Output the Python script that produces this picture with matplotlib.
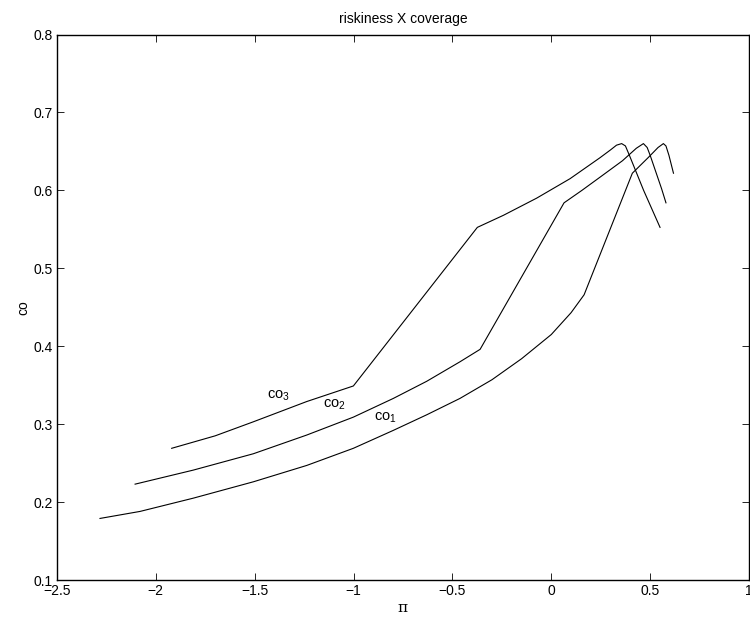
import matplotlib
matplotlib.use("Agg")
import matplotlib.pyplot as plt

plt.rcParams['font.family'] = ['Liberation Sans', 'DejaVu Sans']
plt.rcParams['mathtext.fontset'] = 'custom'
plt.rcParams['mathtext.rm'] = 'Liberation Sans'
plt.rcParams['mathtext.it'] = 'Liberation Sans:italic'

# co1 (lowest curve)
co1_x = [-2.2825, -2.080, -1.811, -1.507, -1.237, -1.001, -0.799, -0.630, -0.462,
         -0.30, -0.15, 0.0, 0.10, 0.166, 0.41, 0.49, 0.54, 0.567, 0.58, 0.595, 0.618]
co1_y = [0.179, 0.188, 0.205, 0.226, 0.247, 0.269, 0.292, 0.312, 0.333,
         0.357, 0.384, 0.415, 0.443, 0.466, 0.622, 0.642, 0.655, 0.660, 0.657, 0.645, 0.622]

# co2 (middle curve)
co2_x = [-2.105, -1.811, -1.507, -1.237, -1.001, -0.799, -0.630, -0.462, -0.360,
         0.0645, 0.155, 0.247, 0.36, 0.43, 0.466, 0.485, 0.50, 0.558, 0.580]
co2_y = [0.223, 0.241, 0.262, 0.286, 0.309, 0.333, 0.355, 0.380, 0.396,
         0.584, 0.600, 0.617, 0.638, 0.654, 0.660, 0.655, 0.645, 0.602, 0.584]

# co3 (upper curve)
co3_x = [-1.92, -1.70, -1.507, -1.237, -1.001, -0.374, -0.242, -0.074, 0.095,
         0.247, 0.30, 0.33, 0.356, 0.375, 0.395, 0.467, 0.550]
co3_y = [0.269, 0.285, 0.303, 0.329, 0.349, 0.5525, 0.568, 0.590, 0.615,
         0.642, 0.652, 0.658, 0.660, 0.657, 0.645, 0.600, 0.5525]

curve_labels = ['co$_1$', 'co$_2$', 'co$_3$']
label_pos = [(-0.897, 0.305), (-1.156, 0.321), (-1.436, 0.333)]

x_ticks = [-2.5, -2, -1.5, -1, -0.5, 0, 0.5, 1]
x_ticklabels = ['\u22122.5', '\u22122', '\u22121.5', '\u22121', '\u22120.5', '0', '0.5', '1']
y_ticks = [0.1, 0.2, 0.3, 0.4, 0.5, 0.6, 0.7, 0.8]
y_ticklabels = ['0.1', '0.2', '0.3', '0.4', '0.5', '0.6', '0.7', '0.8']

fig = plt.figure(figsize=(7.5, 6.17), dpi=100)
ax = fig.add_axes([57/750, 37/617, 692/750, 545.5/617])

for xs, ys in [(co1_x, co1_y), (co2_x, co2_y), (co3_x, co3_y)]:
    ax.plot(xs, ys, color='black', linewidth=0.8)

for lab, (lx, ly) in zip(curve_labels, label_pos):
    ax.text(lx, ly, lab, fontsize=10.5, ha='left', va='baseline')

ax.set_xlim(-2.5, 1)
ax.set_ylim(0.1, 0.8)
ax.set_xticks(x_ticks)
ax.set_xticklabels(x_ticklabels)
ax.set_yticks(y_ticks)
ax.set_yticklabels(y_ticklabels)
ax.tick_params(direction='in', length=5, width=0.6, top=True, right=True,
               labelsize=10, pad=3)
for s in ax.spines.values():
    s.set_linewidth(1.0)

ax.set_title('riskiness X coverage', fontsize=10, pad=8)
ax.set_xlabel('\u03c0', fontsize=11, family=['DejaVu Serif'], labelpad=2)
ax.set_ylabel('co', fontsize=10, labelpad=2)

fig.savefig('out.png', dpi=100)
